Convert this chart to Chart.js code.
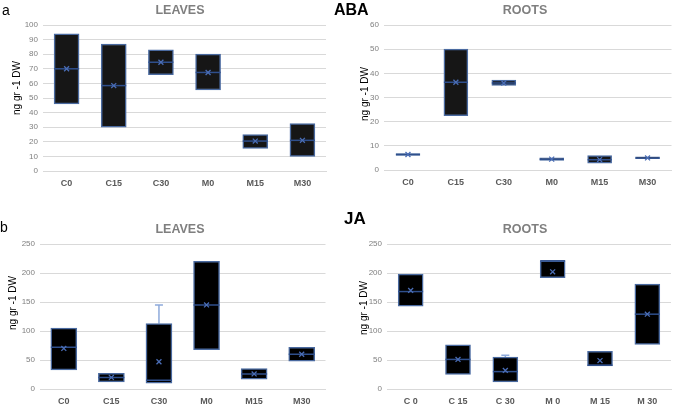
<!DOCTYPE html>
<html>
<head>
<meta charset="utf-8">
<script src="https://cdn.jsdelivr.net/npm/chart.js@4/dist/chart.umd.min.js"></script>
<style>
  body { margin: 0; background: #fff; font-family: "Liberation Sans", Arial, sans-serif; }
  #wrap { position: relative; width: 685px; height: 407px; overflow: hidden; }
  .pane { position: absolute; }
  .lbl { position: absolute; color: #000; line-height: 1; white-space: nowrap; }
  .ttl { position: absolute; color: #7f7f7f; font-weight: bold; font-size: 12.5px; transform: translate(-50%, -50%); white-space: nowrap; }
  .ytl { position: absolute; font-size: 10px; color: #000; transform: translate(-50%, -50%) rotate(-90deg); white-space: nowrap; }
</style>
</head>
<body>
<div id="wrap">
  <div class="pane" style="left:0;top:0;width:340px;height:200px"><canvas id="c1"></canvas></div>
  <div class="pane" style="left:340px;top:0;width:345px;height:200px"><canvas id="c2"></canvas></div>
  <div class="pane" style="left:0;top:200px;width:340px;height:207px"><canvas id="c3"></canvas></div>
  <div class="pane" style="left:340px;top:200px;width:345px;height:207px"><canvas id="c4"></canvas></div>

  <div class="lbl" style="left:2px;top:3px;font-size:14px">a</div>
  <div class="lbl" style="left:334px;top:2px;font-size:16px;font-weight:bold">ABA</div>
  <div class="lbl" style="left:0px;top:220px;font-size:14px">b</div>
  <div class="lbl" style="left:344px;top:210px;font-size:17px;font-weight:bold">JA</div>

  <div class="ttl" style="left:180px;top:10px">LEAVES</div>
  <div class="ttl" style="left:525px;top:10px">ROOTS</div>
  <div class="ttl" style="left:180px;top:229px">LEAVES</div>
  <div class="ttl" style="left:525px;top:229px">ROOTS</div>

  <div class="ytl" style="left:16px;top:88px">ng gr -1 DW</div>
  <div class="ytl" style="left:364px;top:94px">ng gr -1 DW</div>
  <div class="ytl" style="left:12px;top:303px">ng gr -1 DW</div>
  <div class="ytl" style="left:363px;top:308px">ng gr -1 DW</div>
</div>
<script>
// categorias
const cats = ['C0', 'C15', 'C30', 'M0', 'M15', 'M30'];
const catsJaRoots = ['C 0', 'C 15', 'C 30', 'M 0', 'M 15', 'M 30'];

// ABA folhas
const abaLeavesQ1 = [46, 30, 66, 55.5, 15.5, 10];
const abaLeavesQ3 = [94, 87, 83, 80, 25, 32.5];
const abaLeavesMedian = [70, 58.5, 74.5, 67.5, 20.5, 21];
const abaLeavesMean = [70, 58.5, 74.5, 67.5, 20.5, 21];

// ABA raizes
const abaRootsQ1 = [6, 22.5, 35, 4, 2.8, 4.7];
const abaRootsQ3 = [6.8, 50, 37.2, 5, 6, 5.5];
const abaRootsMedian = [6.4, 36.3, 36, 4.5, 4.2, 5];
const abaRootsMean = [6.4, 36.3, 36, 4.5, 4.3, 5];

// JA folhas
const jaLeavesQ1 = [33, 12, 10, 68, 17, 48];
const jaLeavesQ3 = [105, 27, 113, 220, 35, 72];
const jaLeavesMedian = [72, 20, 15, 145, 26, 60];
const jaLeavesMean = [70, 20, 47, 145, 26, 60];
const jaLeavesWhiskerMax = [null, null, 145, null, null, null];

// JA raizes
const jaRootsQ1 = [143, 25, 12, 192, 40, 77];
const jaRootsQ3 = [198, 76, 55, 221, 65, 181];
const jaRootsMedian = [168, 51, 30, 221, 41, 129];
const jaRootsMean = [170, 51, 32, 202, 49, 129];
const jaRootsWhiskerMax = [null, null, 58, null, null, null];

function makePanel(id, labels, q1, q3, median, mean, wMax, cfg) {
    const datasets = [];
    // medias (X)
    datasets.push({
        type: 'line', data: mean, showLine: false, order: 0,
        pointStyle: 'crossRot', pointRadius: 3.5,
        pointBorderColor: '#4a6db5', pointBorderWidth: 1.3
    });
    // medianas
    datasets.push({
        type: 'line', data: median, showLine: false, order: 1,
        pointStyle: 'line', pointRadius: cfg.boxW / 2,
        pointBorderColor: '#2f4f8c', pointBorderWidth: 1.5
    });
    // bigodes
    (wMax || []).forEach((v, i) => {
        if (v == null) return;
        datasets.push({
            type: 'line', order: 3,
            data: [{ x: labels[i], y: q3[i] }, { x: labels[i], y: v }],
            borderColor: '#8eaadb', borderWidth: 1.5,
            pointStyle: 'line', pointRadius: [0, 4],
            pointBorderColor: '#8eaadb', pointBorderWidth: 1.5
        });
    });
    // caixas
    datasets.push({
        type: 'bar', order: 2,
        data: labels.map((c, i) => [q1[i], q3[i]]),
        backgroundColor: cfg.fill, borderColor: '#4a6aa0', borderWidth: 1.5,
        borderSkipped: false, barThickness: cfg.boxW
    });

    new Chart(document.getElementById(id), {
        type: 'bar',
        data: { labels: labels, datasets: datasets },
        options: {
            responsive: true, maintainAspectRatio: false, animation: false,
            layout: { padding: { top: cfg.top, right: cfg.right, left: 0, bottom: 0 } },
            plugins: { legend: { display: false }, tooltip: { enabled: false } },
            scales: {
                x: {
                    grid: { display: false, drawTicks: false },
                    border: { color: '#d9d9d9' },
                    ticks: { color: '#595959', padding: 7, font: { size: 9, weight: 'bold', family: 'Liberation Sans' } },
                    afterFit: s => { s.height = cfg.xH; }
                },
                y: {
                    min: 0, max: cfg.max,
                    grid: { color: '#d9d9d9', drawTicks: false },
                    border: { display: false },
                    ticks: { stepSize: cfg.step, color: '#7f7f7f', padding: 5, font: { size: 8, family: 'Liberation Sans' } },
                    afterFit: s => { s.width = cfg.yW; }
                }
            }
        }
    });
}

makePanel('c1', cats, abaLeavesQ1, abaLeavesQ3, abaLeavesMedian, abaLeavesMean, null,
    { max: 100, step: 10, top: 25, right: 5, xH: 29, yW: 43, boxW: 25, fill: '#161616' });
makePanel('c2', cats, abaRootsQ1, abaRootsQ3, abaRootsMedian, abaRootsMean, null,
    { max: 60, step: 10, top: 25, right: 2, xH: 30, yW: 44, boxW: 24, fill: '#161616' });
makePanel('c3', cats, jaLeavesQ1, jaLeavesQ3, jaLeavesMedian, jaLeavesMean, jaLeavesWhiskerMax,
    { max: 250, step: 50, top: 44, right: 5, xH: 18, yW: 40, boxW: 26, fill: '#000000' });
makePanel('c4', catsJaRoots, jaRootsQ1, jaRootsQ3, jaRootsMedian, jaRootsMean, jaRootsWhiskerMax,
    { max: 250, step: 50, top: 44, right: 2, xH: 18, yW: 47, boxW: 25, fill: '#000000' });
</script>
</body>
</html>
